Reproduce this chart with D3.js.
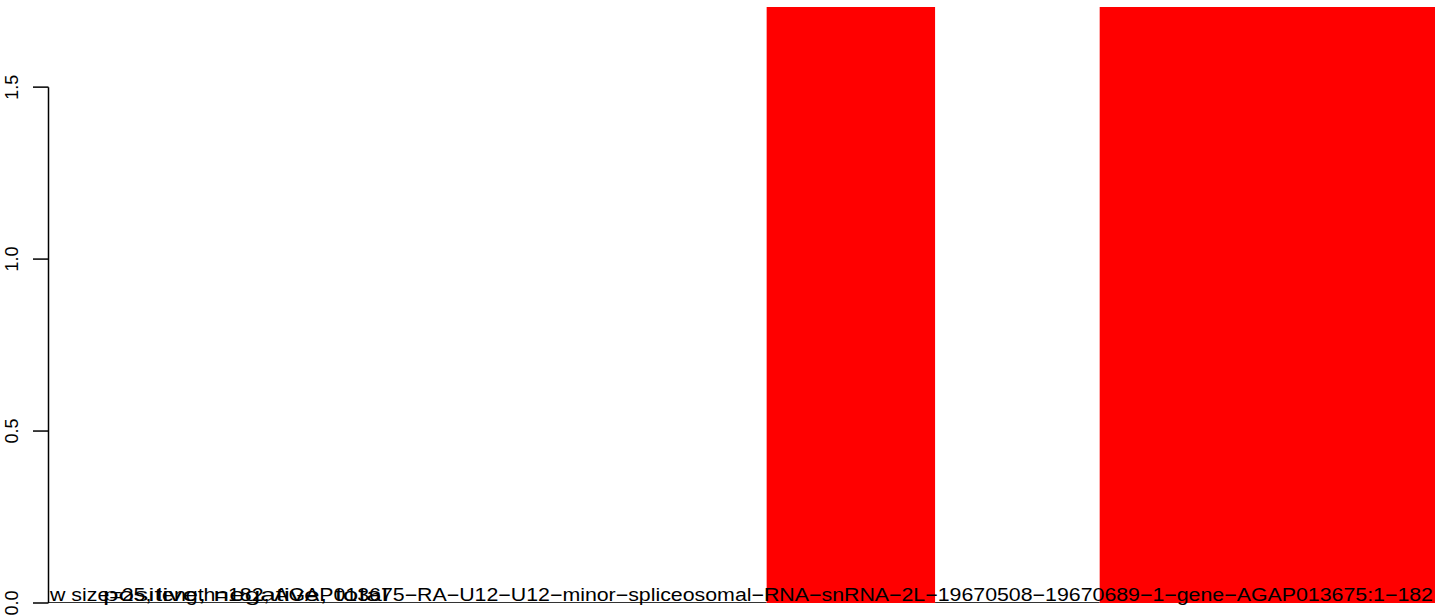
<!DOCTYPE html>
<html>
<head>
<meta charset="utf-8">
<script src="https://cdn.jsdelivr.net/npm/d3@7"></script>
<style>
  body { margin: 0; background: #ffffff; }
  text { font-family: "Liberation Sans", Arial, Helvetica, sans-serif; }
</style>
</head>
<body>
<svg id="graph" width="1444" height="616"></svg>
<script>
// data: segments along the sequence (1..182) and their heights
const segStart = [0, 94.3, 116.4, 138.0];
const segEnd = [94.3, 116.4, 138.0, 182];
const segValue = [0, 2, 0, 2];

// y axis ticks
const yTicks = [0, 0.5, 1.0, 1.5];

// texts written along the bottom (they overlap in the original)
const titleText = "w size=25, length=182, AGAP013675\u2212RA\u2212U12\u2212U12\u2212minor\u2212spliceosomal\u2212RNA\u2212snRNA\u22122L\u221219670508\u221219670689\u22121\u2212gene\u2212AGAP013675:1\u2212182";
const legendText = "positive, negative, total";

//initialize the size
var width = 1444, height = 616;
const margin = { top: 7, bottom: 13, right: 9, left: 48 };
const innerWidth = width - margin.left - margin.right;
const innerHeight = height - margin.top - margin.bottom;

const svg = d3.select('#graph');
const g = svg.append('g').attr('transform', `translate(${margin.left}, ${margin.top})`);

// scales
const x = d3.scaleLinear().domain([0, 182]).range([0, innerWidth]);
const y = d3.scaleLinear().domain([0, 1.733]).range([innerHeight, 0]);

// clip the bars to the plot region like R does
svg.append('clipPath').attr('id', 'plotclip')
    .append('rect')
    .attr('x', 0).attr('y', 0)
    .attr('width', innerWidth + 2).attr('height', innerHeight + 2);

const segs = segStart.map((s, i) => ({ s: s, e: segEnd[i], v: segValue[i] }));

const plot = g.append('g').attr('clip-path', 'url(#plotclip)');

// zero height segments show up as a thin line
plot.selectAll('.zeroLine')
    .data(segs.filter(d => d.v === 0))
    .join('line')
    .attr('class', 'zeroLine')
    .attr('x1', d => x(d.s))
    .attr('x2', d => x(d.e))
    .attr('y1', y(0) - 0.5)
    .attr('y2', y(0) - 0.5)
    .attr('stroke', '#333')
    .attr('stroke-width', 1);

// red bars
plot.selectAll('.bar')
    .data(segs.filter(d => d.v > 0))
    .join('rect')
    .attr('class', 'bar')
    .attr('x', d => x(d.s))
    .attr('width', d => x(d.e) - x(d.s))
    .attr('y', d => y(d.v))
    .attr('height', d => y(0) - y(d.v))
    .style('fill', '#ff0000');

// y axis drawn by hand in R style
const yAxis = g.append('g');
yAxis.append('line')
    .attr('x1', 0.5).attr('x2', 0.5)
    .attr('y1', y(0)).attr('y2', y(1.5))
    .attr('stroke', '#000')
    .attr('stroke-width', 1.5);
yAxis.selectAll('.tick')
    .data(yTicks)
    .join('line')
    .attr('class', 'tick')
    .attr('x1', -15).attr('x2', 0.5)
    .attr('y1', d => y(d)).attr('y2', d => y(d))
    .attr('stroke', '#000')
    .attr('stroke-width', 1.5);
yAxis.selectAll('.tickLabel')
    .data(yTicks)
    .join('text')
    .attr('class', 'tickLabel')
    .attr('transform', d => `translate(-30,${y(d)}) rotate(-90)`)
    .attr('text-anchor', 'middle')
    .style('font-size', '18px')
    .text(d => d.toFixed(1));

// bottom texts
svg.append('text')
    .attr('x', 50).attr('y', 601)
    .attr('textLength', 1383)
    .attr('lengthAdjust', 'spacingAndGlyphs')
    .style('font-size', '18px')
    .text(titleText);
svg.append('text')
    .attr('x', 103).attr('y', 601)
    .attr('textLength', 285)
    .attr('lengthAdjust', 'spacingAndGlyphs')
    .style('font-size', '18px')
    .text(legendText);
</script>
</body>
</html>
